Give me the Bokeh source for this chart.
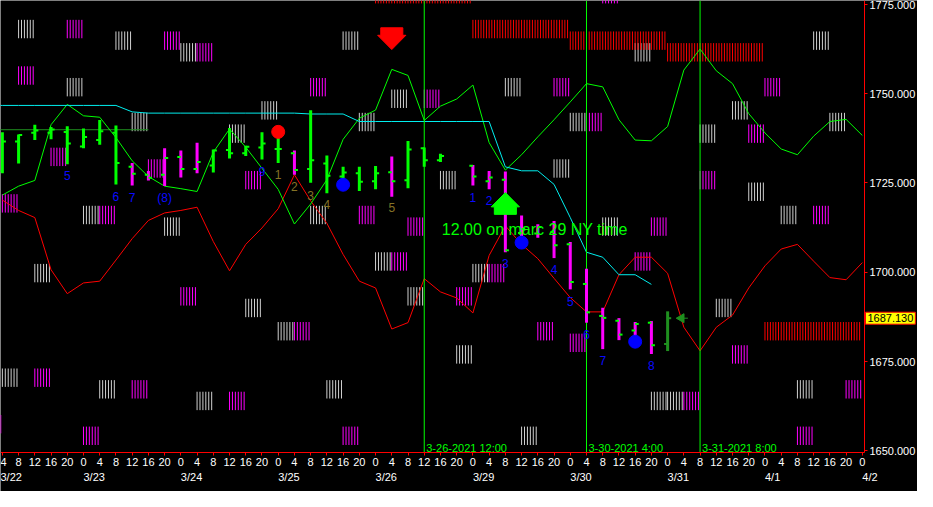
import math
from bokeh.plotting import figure
from bokeh.models import Range1d, LinearAxis, FixedTicker, NumeralTickFormatter, Label
from bokeh.embed import file_html
from bokeh.resources import INLINE
from bokeh.core.properties import value

FONT = "Liberation Sans"

# ---------------- data ----------------
dates = ["3/22", "3/23", "3/24", "3/25", "3/26", "3/29", "3/30", "3/31", "4/1", "4/2"]
date_bar = [0, 6, 12, 18, 24, 30, 36, 42, 48, 54]
hours = ["0", "4", "8", "12", "16", "20"]

# OHLC bars (4-hour bars, index = bar number from 3/22 0:00)
bars = [1, 2, 3, 4, 5, 6, 7, 8, 9, 10, 11, 12, 13, 14, 15, 16, 17, 18, 19, 20, 21, 22, 23, 24,
        25, 26, 27, 28, 30, 31, 32, 33, 34, 35, 36, 37, 38, 39, 40, 41, 42]
high = [1739.21, 1738.58, 1741.30, 1740.65, 1740.84, 1740.21, 1742.65, 1741.11, 1730.61, 1728.36,
        1734.68, 1734.06, 1736.23, 1734.33, 1740.37, 1735.41, 1739.21, 1738.12, 1734.06, 1745.36,
        1732.70, 1729.53, 1729.53, 1729.72, 1732.43, 1736.77, 1734.95, 1733.15, 1729.99, 1728.36,
        1728.17, 1715.89, 1713.45, 1714.34, 1708.49, 1700.98, 1690.05, 1687.15, 1686.06, 1686.33,
        1689.05]
low = [1727.74, 1730.45, 1737.04, 1737.23, 1730.26, 1734.68, 1735.68, 1724.57, 1724.30, 1725.65,
       1724.11, 1726.55, 1727.74, 1727.90, 1731.81, 1732.51, 1731.53, 1730.61, 1727.28, 1725.03,
       1722.13, 1726.11, 1722.75, 1723.21, 1721.12, 1723.48, 1729.53, 1730.88, 1724.30, 1723.21,
       1705.59, 1710.11, 1709.65, 1703.96, 1695.20, 1685.87, 1678.47, 1680.99, 1680.64, 1677.11,
       1677.93]
opens = [1728.36, 1736.58, 1739.02, 1739.02, 1739.29, 1735.22, 1737.04, 1739.02, 1729.53, 1727.28,
         1727.28, 1732.24, 1728.90, 1729.91, 1734.25, 1733.32, 1734.95, 1734.52, 1733.32, 1728.90,
         1730.45, 1726.82, 1727.74, 1725.46, 1728.01, 1725.73, 1734.68, 1731.34, 1729.80, 1725.46,
         1725.92, 1711.01, 1710.82, 1711.28, 1707.84, 1696.72, 1687.77, 1686.42, 1683.70, 1685.87,
         1679.91]
closes = [1736.58, 1738.39, 1739.67, 1739.94, 1736.04, 1737.85, 1739.48, 1730.61, 1727.55, 1726.46,
          1731.97, 1728.90, 1730.88, 1734.06, 1733.32, 1735.14, 1736.04, 1734.52, 1728.63, 1731.34,
          1727.01, 1727.90, 1725.30, 1727.74, 1725.46, 1734.33, 1731.34, 1732.51, 1726.82, 1726.55,
          1706.13, 1712.09, 1712.64, 1707.57, 1697.26, 1688.77, 1687.23, 1682.54, 1685.52, 1679.56,
          1687.13]
bar_kind = ["up", "up", "up", "up", "up", "up", "up", "up",
            "down", "down", "down", "down", "down",
            "up", "up", "up", "up", "up",
            "down",
            "up", "up", "up", "up", "up",
            "down",
            "up", "up", "up",
            "down", "down", "down", "down", "down", "down", "down", "down", "down", "down", "down", "down",
            "last"]

# indicator lines
line_bar = list(range(1, 55))
green_line = [1721.6, 1724.1, 1725.7, 1741.3, 1747.0, 1743.8, 1743.4, 1737.7, 1731.2, 1726.8,
              1724.1, 1723.4, 1722.6, 1733.6, 1740.1, 1735.0, 1729.1, 1723.2, 1713.5, 1719.1,
              1725.9, 1737.2, 1743.1, 1745.4, 1756.8, 1755.1, 1742.5, 1746.5, 1748.5, 1752.4,
              1736.3, 1728.6, 1732.9, 1737.9, 1742.7, 1747.7, 1752.8, 1751.9, 1742.7, 1737.0,
              1736.8, 1740.8, 1756.6, 1762.5, 1756.4, 1752.8, 1744.4, 1739.0, 1734.5, 1732.9,
              1738.1, 1742.2, 1742.8, 1738.3]
red_line = [1720.2, 1717.3, 1715.3, 1700.7, 1694.0, 1697.0, 1697.5, 1703.4, 1709.4, 1714.5,
            1716.6, 1717.3, 1718.2, 1708.6, 1700.4, 1707.8, 1712.4, 1717.8, 1727.3, 1720.0,
            1713.7, 1705.0, 1697.5, 1695.6, 1684.1, 1685.9, 1698.2, 1694.5, 1692.8, 1688.6,
            1704.7, 1713.0, 1707.8, 1703.8, 1698.3, 1692.9, 1688.9, 1688.9, 1699.3, 1704.2,
            1704.2, 1699.7, 1684.6, 1678.0, 1684.6, 1688.0, 1695.6, 1701.8, 1706.5, 1707.8,
            1703.1, 1698.5, 1697.9, 1702.7]
cyan_bar = list(range(0, 42))
cyan_line = [1746.7, 1746.7, 1746.7, 1746.7, 1746.7, 1746.7, 1746.7, 1746.7, 1746.7, 1744.9,
             1744.55, 1744.55, 1744.55, 1744.55, 1744.55, 1744.55, 1744.55, 1744.55, 1744.55, 1744.55,
             1744.3, 1744.3, 1744.3, 1742.2, 1742.2, 1742.2, 1742.2, 1742.2, 1742.2, 1742.2,
             1742.2, 1742.2, 1729.5, 1728.4, 1728.4, 1724.6, 1715.3, 1705.6, 1704.2, 1699.3,
             1699.3, 1696.6]
dkgreen_level = [1739.9]
dkgreen_from = [0]
dkgreen_to = [10]

# hatched blocks: (bar, top price)
gray_bar = [2, 8, 12, 5, 17, 9, 15, 6, 11, 3, 16, 18, 1, 7, 13, 24, 26, 30, 29, 21, 33, 45, 41, 42,
            50, 40, 51, 46, 44, 52, 47, 49, 38, 22, 25, 23, 32, 36, 28, 35, 20]
gray_top = [1770.66, 1767.41, 1764.15, 1754.39, 1747.89, 1744.63, 1741.38, 1718.60, 1715.35, 1702.33,
            1692.57, 1686.06, 1673.05, 1669.79, 1666.54, 1705.59, 1695.82, 1702.33, 1679.56, 1669.79,
            1656.78, 1692.57, 1666.54, 1666.54, 1669.79, 1764.15, 1767.41, 1747.89, 1741.38, 1744.63,
            1725.11, 1718.60, 1715.35, 1767.41, 1751.14, 1744.63, 1754.39, 1744.63, 1728.36, 1731.62,
            1718.60]
mag_bar = [5, 11, 13, 2, 4, 10, 16, 1, 7, 12, 19, 3, 9, 15, 6, 0, 25, 29, 31, 34, 36, 22, 40, 46,
           43, 53, 50, 38, 48, 37, 47, 44, 51, 41, 20, 27, 35, 23, 26]
mag_top = [1770.66, 1767.41, 1764.15, 1757.65, 1734.87, 1731.62, 1728.36, 1721.85, 1718.60, 1695.82,
           1686.06, 1673.05, 1669.79, 1666.54, 1656.78, 1660.03, 1705.59, 1695.82, 1702.33, 1686.06,
           1682.81, 1656.78, 1705.59, 1679.56, 1666.54, 1669.79, 1656.78, 1780.42, 1754.39, 1744.63,
           1741.38, 1728.36, 1718.60, 1715.35, 1754.39, 1751.14, 1754.39, 1718.60, 1715.35]
red_first_bar = [24, 30, 36, 42, 48]
red_last_bar = [29, 35, 41, 47, 53]
red_top = [1780.42, 1770.66, 1767.41, 1764.15, 1686.06]

# markers
red_dot_bar, red_dot_price = [18], [1739.3]
blue_dot_bar, blue_dot_price = [22, 33, 40], [1724.5, 1708.3, 1680.56]
arrow_bar = [25, 32]
arrow_tip = [1762.34, 1722.3]
arrow_dir = [-1, 1]
arrow_color = ["#ff0000", "#00ff00"]

# wave count labels
wave_text = ["5", "6", "7", "(8)", "9", "1", "2", "3", "4", "5",
             "1", "2", "3", "4", "5", "6", "7", "8"]
wave_bar = [5, 8, 9, 11, 17, 18, 19, 20, 21, 25, 30, 31, 32, 35, 36, 37, 38, 41]
wave_price = [1727.0, 1721.3, 1721.0, 1720.8, 1728.1, 1727.3, 1724.0, 1721.6, 1719.0, 1718.0,
              1721.0, 1720.0, 1702.4, 1700.8, 1691.8, 1682.5, 1675.3, 1673.8]
wave_group = ["blue"] * 5 + ["olive"] * 5 + ["blue"] * 8

# time markers
vline_bar = [27, 37, 44]
vline_text = ["3-26-2021 12:00", "3-30-2021 4:00", "3-31-2021 8:00"]
note_bar, note_price, note_text = [28.08], [1712.1], ["12.00 on marc 29 NY time"]
last_price = 1687.13
last_bar = 42

price_ticks = [1650, 1675, 1700, 1725, 1750, 1775]

# ---------------- layout / styles ----------------
C_UP, C_DOWN, C_LAST = "#00ff00", "#ff00ff", "#1f8f1f"
C_BLUE, C_OLIVE = "#0a0aff", "#857326"
C_GRAY = "#d0d0d0"
BLOCK_H = 5.15
GM_STEP = 0.18
RED_STEP = 1.0 / 6.0
W, H = 917, 491
X_LEFT, X_AXIS, X_RIGHT = 0.885, 54.13, 57.4        # plot area ends at X_AXIS
Y_BOTTOM, Y_AXIS, Y_TOP = 1638.61, 1649.46, 1776.08  # plot area starts at Y_AXIS
PX_PER_BAR = W / (X_RIGHT - X_LEFT)

p = figure(width=W, height=H,
           x_range=Range1d(X_LEFT, X_RIGHT), y_range=Range1d(Y_BOTTOM, Y_TOP),
           x_axis_type=None, y_axis_type=None,
           output_backend="svg", toolbar_location=None,
           background_fill_color="black", border_fill_color="black",
           outline_line_color=None,
           min_border_left=0, min_border_top=0, min_border_right=0, min_border_bottom=0)

# axes (fixed at the edge of the plotting area)
overrides = {b: hours[b % 6] for b in line_bar}
xa = LinearAxis(ticker=FixedTicker(ticks=line_bar, minor_ticks=[]),
                major_label_overrides=overrides, fixed_location=Y_AXIS,
                bounds=(X_LEFT, X_AXIS))
p.add_layout(xa, "below")
ya = LinearAxis(ticker=FixedTicker(ticks=price_ticks, minor_ticks=[]),
                formatter=NumeralTickFormatter(format="0.000"), fixed_location=X_AXIS,
                bounds=(Y_AXIS, Y_TOP))
p.add_layout(ya, "right")
for ax in (xa, ya):
    ax.axis_line_color = "red"
    ax.major_tick_line_color = "red"
    ax.major_tick_in = 0
    ax.major_tick_out = 3
    ax.minor_tick_line_color = None
    ax.major_label_text_color = "white"
    ax.major_label_text_font = FONT
    ax.major_label_text_font_size = "11px"
    ax.major_label_standoff = 2

# hatched blocks
sx, sy0, sy1, sc = [], [], [], []
for b, t in zip(gray_bar, gray_top):
    for k in range(6):
        sx.append(b + k * GM_STEP); sy0.append(t); sy1.append(t - BLOCK_H); sc.append(C_GRAY)
for b, t in zip(mag_bar, mag_top):
    for k in range(6):
        sx.append(b + k * GM_STEP); sy0.append(t); sy1.append(t - BLOCK_H); sc.append(C_DOWN)
for b0, b1, t in zip(red_first_bar, red_last_bar, red_top):
    for b in range(b0, b1 + 1):
        for k in range(6):
            sx.append(b + k * RED_STEP); sy0.append(t); sy1.append(t - BLOCK_H); sc.append("#ff0000")
p.segment(x0=sx, x1=sx, y0=sy0, y1=sy1, line_color=sc, line_width=1)

# indicator lines
p.segment(x0=dkgreen_from, x1=dkgreen_to, y0=dkgreen_level, y1=dkgreen_level,
          line_color="#1f8f1f", line_width=1)
p.line(line_bar, red_line, line_color="#ff0000", line_width=1)
p.line(line_bar, green_line, line_color="#00ff00", line_width=1)
p.line(cyan_bar, cyan_line, line_color="#00eeee", line_width=1)

# vertical time markers
p.segment(x0=vline_bar, x1=vline_bar, y0=[Y_AXIS] * len(vline_bar), y1=[Y_TOP] * len(vline_bar),
          line_color="#00ff00", line_width=1)
p.text(x=vline_bar, y=[1650.8] * len(vline_bar), text=vline_text, x_offset=2,
       text_color="#00ff00", text_font=value(FONT), text_font_size="11px",
       text_baseline="alphabetic", text_align="left")

# OHLC bars
kc = {"up": C_UP, "down": C_DOWN, "last": C_LAST}
bcol = [kc[k] for k in bar_kind]
tcol = [C_LAST if k == "last" else C_UP for k in bar_kind]
p.segment(x0=bars, x1=bars, y0=low, y1=high, line_color=bcol, line_width=3)
p.segment(x0=[b - 0.22 for b in bars], x1=bars, y0=opens, y1=opens, line_color=tcol, line_width=2)
p.segment(x0=bars, x1=[b + 0.22 for b in bars], y0=closes, y1=closes, line_color=tcol, line_width=2)

# circles
p.scatter(red_dot_bar, red_dot_price, marker="circle", size=13, color="#ff0000")
p.scatter(blue_dot_bar, blue_dot_price, marker="circle", size=13, color="#0000ff")

# arrows
HW, HH, BW, BH = 0.87, 4.0, 0.68, 2.1
axs, ays = [], []
for bx, tip, d in zip(arrow_bar, arrow_tip, arrow_dir):
    base = tip - d * HH
    end = base - d * BH
    axs.append([bx, bx + HW, bx + BW, bx + BW, bx - BW, bx - BW, bx - HW])
    ays.append([tip, base, base, end, end, base, base])
p.patches(axs, ays, fill_color=arrow_color, line_color=arrow_color)

# last price pointer
p.scatter([last_bar + 0.85], [last_price], marker="triangle", angle=math.pi / 2, size=9, color=C_LAST)
p.segment(x0=[last_bar + 0.85], x1=[last_bar + 1.25], y0=[last_price], y1=[last_price],
          line_color=C_LAST, line_width=1)

# wave labels
wcol = [C_BLUE if g == "blue" else C_OLIVE for g in wave_group]
p.text(x=wave_bar, y=wave_price, text=wave_text, text_color=wcol, text_font=value(FONT),
       text_font_size="12px", text_align="center", text_baseline="middle")

# note
p.text(x=note_bar, y=note_price, text=note_text, text_color="#00ff00", text_font=value(FONT),
       text_font_size="16px", text_align="left", text_baseline="alphabetic")

# date row under the hour labels (kept inside the canvas)
date_dx = [max(0.0, (X_LEFT - b) * PX_PER_BAR) for b in date_bar]
p.text(x=date_bar, y=[Y_AXIS] * len(date_bar), text=dates, x_offset=date_dx, y_offset=18,
       text_color="white", text_font=value(FONT), text_font_size="11px",
       text_align="left", text_baseline="top")

# last price box on the price axis
p.add_layout(Label(x=X_AXIS, y=last_price, x_offset=1, text="1687.130", text_align="left",
                   text_baseline="middle", text_color="black", text_font=FONT, text_font_size="11px",
                   background_fill_color="#ffff00", border_line_color="#ff0000", padding=2))

open("out.html", "w").write(file_html(p, INLINE))
